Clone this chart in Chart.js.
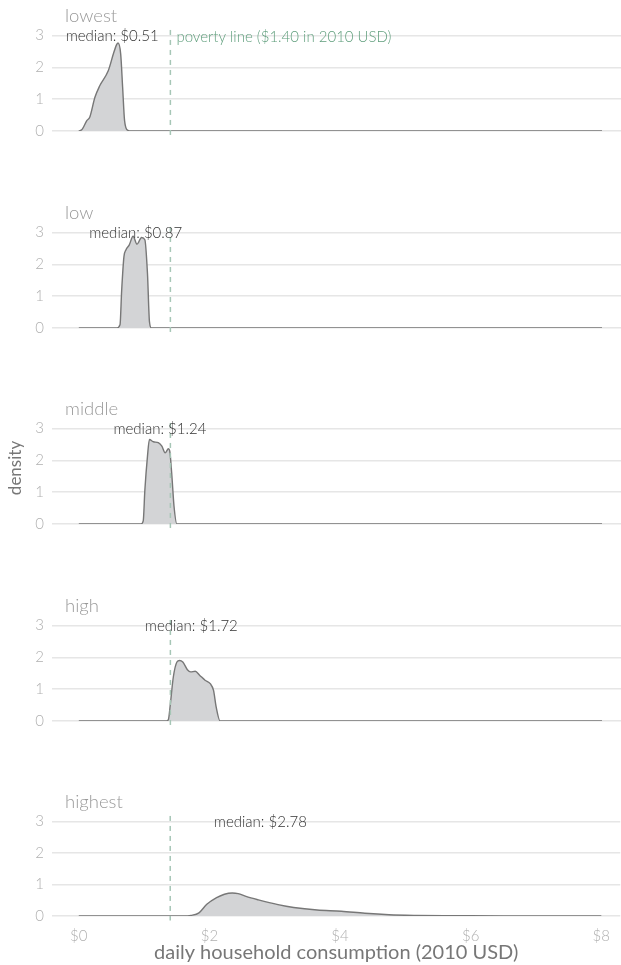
<!DOCTYPE html>
<html>
<head>
<meta charset="utf-8">
<script src="https://cdn.jsdelivr.net/npm/chart.js@4.4.1/dist/chart.umd.min.js"></script>
<style>
  body { margin: 0; background: #fff; width: 621px; height: 965px; position: relative; overflow: hidden; }
  canvas { position: absolute; left: 0; }
</style>
</head>
<body>
<canvas id="p0" width="621" height="148" style="top:0px"></canvas>
<canvas id="p1" width="621" height="148" style="top:197px"></canvas>
<canvas id="p2" width="621" height="148" style="top:393px"></canvas>
<canvas id="p3" width="621" height="148" style="top:590px"></canvas>
<canvas id="p4" width="621" height="179" style="top:786px"></canvas>
<script>
// groups (consumption quintiles)
const groups = ['lowest', 'low', 'middle', 'high', 'highest'];
const medians = [0.51, 0.87, 1.24, 1.72, 2.78];
const povertyLine = 1.40;

// density curves (x = daily consumption $, y = density)
const lowestX  = [0, 0.05, 0.12, 0.17, 0.245, 0.32, 0.45, 0.53, 0.58, 0.60, 0.64, 0.67, 0.70, 0.75, 0.8, 8];
const lowestY  = [0, 0.05, 0.32, 0.45, 1.05, 1.42, 1.89, 2.43, 2.72, 2.76, 2.42, 1.37, 0.32, 0.02, 0, 0];
const lowX     = [0, 0.58, 0.63, 0.655, 0.69, 0.72, 0.77, 0.83, 0.89, 0.96, 1.01, 1.05, 1.08, 1.11, 8];
const lowY     = [0, 0, 0.1, 1.17, 2.24, 2.45, 2.6, 2.88, 2.63, 2.84, 2.77, 1.7, 0.2, 0, 0];
const middleX  = [0, 0.95, 0.985, 1.01, 1.05, 1.08, 1.14, 1.215, 1.27, 1.32, 1.37, 1.39, 1.42, 1.456, 1.5, 8];
const middleY  = [0, 0, 0.1, 1.07, 2.13, 2.65, 2.58, 2.55, 2.44, 2.23, 2.36, 2.29, 1.6, 0.55, 0, 0];
const highX    = [0, 1.34, 1.37, 1.40, 1.445, 1.50, 1.54, 1.59, 1.66, 1.71, 1.78, 1.85, 1.93, 2.01, 2.06, 2.10, 2.16, 8];
const highY    = [0, 0, 0.05, 0.54, 1.38, 1.85, 1.90, 1.85, 1.61, 1.54, 1.56, 1.43, 1.28, 1.17, 0.96, 0.44, 0, 0];
const highestX = [0, 1.6, 1.72, 1.84, 1.96, 2.11, 2.23, 2.35, 2.44, 2.56, 2.75, 3.05, 3.29, 3.65, 4.02, 4.38, 4.75, 5.17, 5.78, 6.5, 8];
const highestY = [0, 0, 0.02, 0.1, 0.37, 0.58, 0.69, 0.73, 0.71, 0.62, 0.51, 0.36, 0.27, 0.19, 0.15, 0.085, 0.04, 0.02, 0.01, 0, 0];

const curvesX = [lowestX, lowX, middleX, highX, highestX];
const curvesY = [lowestY, lowY, middleY, highY, highestY];

const xTicks = [0, 2, 4, 6, 8];
const yTicks = [0, 1, 2, 3];
const xTitle = 'daily household consumption (2010 USD)';
const yTitle = 'density';
const povertyLabel = 'poverty line ($1.40 in 2010 USD)';

const FONT = 'Lato, "Open Sans", sans-serif';

function makePanel(i) {
    const last = i === groups.length - 1;
    const pts = curvesX[i].map((x, k) => ({x: x, y: curvesY[i][k]}));

    const annotate = {
        id: 'annotate' + i,
        afterDatasetsDraw(chart) {
            const ctx = chart.ctx;
            const xs = chart.scales.x, ys = chart.scales.y;
            ctx.save();
            // poverty line
            const px = xs.getPixelForValue(povertyLine);
            ctx.strokeStyle = '#a6c6b6';
            ctx.lineWidth = 1.5;
            ctx.setLineDash([5, 5]);
            ctx.beginPath();
            ctx.moveTo(px, ys.getPixelForValue(3.17));
            ctx.lineTo(px, ys.getPixelForValue(-0.14));
            ctx.stroke();
            ctx.setLineDash([]);

            // group title
            ctx.fillStyle = '#9a9a9a';
            ctx.font = '300 18.5px ' + FONT;
            ctx.textAlign = 'left';
            ctx.textBaseline = 'middle';
            ctx.fillText(groups[i], 65, 16);

            // median label
            ctx.fillStyle = '#333';
            ctx.font = '300 15px ' + FONT;
            ctx.textAlign = 'center';
            ctx.fillText('median: $' + medians[i].toFixed(2), xs.getPixelForValue(medians[i]), ys.getPixelForValue(3) + 1);

            if (i === 0) {
                ctx.fillStyle = '#5f9e7c';
                ctx.textAlign = 'left';
                ctx.fillText(povertyLabel, px + 6, ys.getPixelForValue(3) + 2);
            }
            if (i === 2) {
                ctx.translate(16, 75);
                ctx.rotate(-Math.PI / 2);
                ctx.fillStyle = '#777';
                ctx.font = '17px ' + FONT;
                ctx.textAlign = 'center';
                ctx.fillText(yTitle, 0, 0);
            }
            ctx.restore();
        }
    };

    new Chart(document.getElementById('p' + i).getContext('2d'), {
        type: 'line',
        data: {
            datasets: [{
                data: pts,
                borderColor: '#777',
                borderWidth: 1.4,
                backgroundColor: '#d3d4d6',
                fill: 'origin',
                pointRadius: 0,
                cubicInterpolationMode: 'monotone'
            }]
        },
        options: {
            responsive: false,
            animation: false,
            layout: { padding: { top: 29, right: 0, left: 0, bottom: last ? 0 : 2 } },
            plugins: { legend: { display: false }, tooltip: { enabled: false } },
            scales: {
                x: {
                    type: 'linear',
                    min: -0.41,
                    max: 8.29,
                    display: last,
                    afterBuildTicks: s => { s.ticks = xTicks.map(v => ({value: v})); },
                    afterFit: s => { if (last) s.height = 49; },
                    grid: { display: false, drawTicks: false },
                    border: { display: false },
                    ticks: {
                        autoSkip: false,
                        maxRotation: 0,
                        padding: 11,
                        color: '#b0b0b0',
                        font: { family: FONT, size: 15, weight: 300 },
                        callback: v => '$' + v
                    },
                    title: {
                        display: true,
                        text: xTitle,
                        color: '#777',
                        font: { family: FONT, size: 20 },
                        padding: { top: 0, bottom: 0 }
                    }
                },
                y: {
                    min: 0,
                    max: 3.2,
                    afterBuildTicks: s => { s.ticks = yTicks.map(v => ({value: v})); },
                    afterFit: s => { s.width = 52; },
                    grid: { color: '#e6e6e6', lineWidth: 1.5, drawTicks: false },
                    border: { display: false },
                    ticks: {
                        autoSkip: false,
                        padding: 8,
                        color: '#b0b0b0',
                        font: { family: FONT, size: 15, weight: 300 }
                    }
                }
            }
        },
        plugins: [annotate]
    });
}

groups.forEach((g, i) => makePanel(i));
</script>
</body>
</html>
